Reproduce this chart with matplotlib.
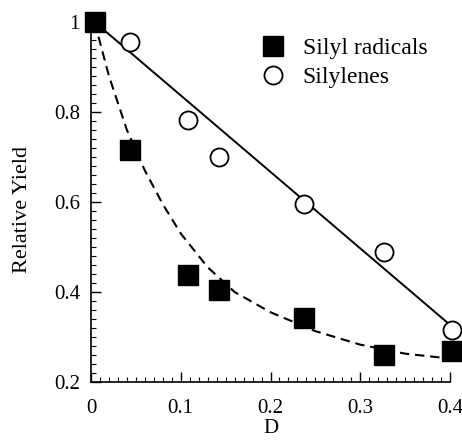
import matplotlib
matplotlib.use("Agg")
import matplotlib.pyplot as plt
from matplotlib.ticker import MultipleLocator

plt.rcParams['font.family'] = ['Liberation Serif', 'DejaVu Serif']

# Data
d_values = [0.004, 0.043, 0.108, 0.143, 0.237, 0.327, 0.402]
silyl_radicals = [1.0, 0.715, 0.437, 0.405, 0.343, 0.260, 0.270]
silylenes_d = [0.043, 0.108, 0.143, 0.237, 0.327, 0.402]
silylenes = [0.956, 0.782, 0.700, 0.596, 0.489, 0.316]

# fitted curves
lin_fit_d = [0.004, 0.400]
lin_fit_y = [1.0, 0.327]
exp_fit_d = [0.004, 0.02, 0.04, 0.06, 0.08, 0.10, 0.13, 0.16, 0.20, 0.25, 0.30, 0.35, 0.40]
exp_fit_y = [1.0, 0.88, 0.76, 0.67, 0.595, 0.53, 0.455, 0.40, 0.355, 0.313, 0.283, 0.263, 0.252]

x_ticks = [0, 0.1, 0.2, 0.3, 0.4]
x_tick_labels = ["0", "0.1", "0.2", "0.3", "0.4"]
y_ticks = [0.2, 0.4, 0.6, 0.8, 1.0]
y_tick_labels = ["0.2", "0.4", "0.6", "0.8", "1"]

fig = plt.figure(figsize=(4.62, 4.41), dpi=100)
ax = fig.add_axes([91/462, 1-382/441, (450-91)/462, (382-22)/441])

ax.plot(lin_fit_d, lin_fit_y, '-', color='black', lw=1.4, clip_on=False, zorder=2)
ax.plot(exp_fit_d, exp_fit_y, '--', color='black', lw=1.5, dashes=(4.5, 2.8), clip_on=False, zorder=2)

ax.plot(silylenes_d, silylenes, 'o', ms=13, mfc='white', mec='black', mew=1.3,
        clip_on=False, zorder=3, label='Silylenes')
ax.plot(d_values, silyl_radicals, 's', ms=14, mfc='black', mec='black',
        clip_on=False, zorder=4, label='Silyl radicals')

ax.set_xlim(0, 0.4)
ax.set_ylim(0.2, 1.0)
ax.spines['top'].set_visible(False)
ax.spines['right'].set_visible(False)
ax.spines['left'].set_linewidth(1.2)
ax.spines['bottom'].set_linewidth(1.2)

ax.set_xticks(x_ticks)
ax.set_xticklabels(x_tick_labels)
ax.set_yticks(y_ticks)
ax.set_yticklabels(y_tick_labels)
ax.xaxis.set_minor_locator(MultipleLocator(0.01))
ax.yaxis.set_minor_locator(MultipleLocator(0.02))
ax.tick_params(which='major', direction='in', length=7, width=1.0, labelsize=15)
ax.tick_params(axis='y', which='major', pad=8)
ax.tick_params(axis='x', which='major', pad=12)
ax.tick_params(which='minor', direction='in', length=3.5, width=0.8)

ax.set_xlabel('D', fontsize=15, va='center')
ax.xaxis.set_label_coords(0.5, -0.128)
ax.set_ylabel('Relative Yield', fontsize=16, va='center')
ax.yaxis.set_label_coords(-0.19, 0.48)

handles, labels = ax.get_legend_handles_labels()
ax.legend(handles[::-1], labels[::-1], loc='upper left', bbox_to_anchor=(0.415, 1.015),
          frameon=False, fontsize=17, handletextpad=0.75, labelspacing=0.3,
          handlelength=1.0, markerscale=1.0)

fig.savefig('out.png', dpi=100)
